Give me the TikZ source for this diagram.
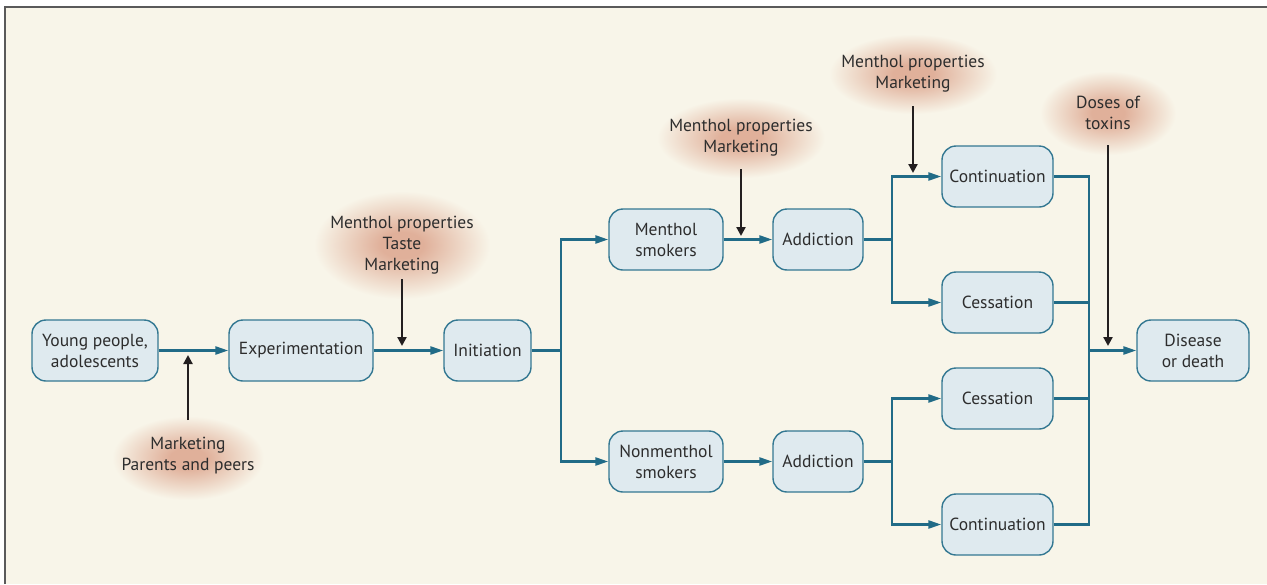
\documentclass[tikz,border=0pt]{standalone}
\usepackage{fontspec}
\setmainfont{PT Sans}
\usetikzlibrary{arrows.meta}
\definecolor{bgc}{RGB}{248,245,233}
\definecolor{glowc}{RGB}{224,176,154}
\definecolor{boxfill}{RGB}{223,234,239}
\definecolor{boxdraw}{RGB}{52,120,146}
\definecolor{conn}{RGB}{33,107,135}
\definecolor{txt}{RGB}{45,45,45}
\definecolor{blk}{RGB}{35,31,32}
\definecolor{frame}{RGB}{90,90,90}
\pgfdeclareradialshading{glowshade}{\pgfpoint{0bp}{0bp}}{color(0bp)=(glowc); color(6bp)=(glowc); color(25bp)=(bgc); color(50bp)=(bgc)}
\begin{document}
\begin{tikzpicture}[x=1pt,y=-1pt,
  font=\fontsize{17.5}{21}\selectfont, text=txt,
  box/.style={draw=boxdraw, fill=boxfill, line width=1.4pt, rounded corners=14pt,
    minimum height=61pt, align=center, inner sep=0pt},
  lbl/.style={align=center, inner sep=0pt},
  cl/.style={draw=conn, line width=2.4pt},
  cla/.style={cl, -{Triangle[length=13pt,width=8pt]}},
  ba/.style={draw=blk, line width=2.2pt, -{Triangle[length=9pt,width=9pt]}},
  glow/.style={shading=glowshade}]
\useasboundingbox (0,0) rectangle (1267,584);
\fill[white] (0,0) rectangle (1267,584);
\fill[bgc] (5,7) rectangle (1267,584);
\draw[frame, line width=2pt] (5,584) -- (5,7) -- (1267,7);

% glows
\shade[glow] (188,458) ellipse (76 and 42);
\shade[glow] (402,245) ellipse (88 and 54);
\shade[glow] (741,138) ellipse (84 and 40);
\shade[glow] (913,74) ellipse (84 and 40);
\shade[glow] (1108,113) ellipse (68 and 42);

% nodes
\node[box, minimum width=126pt] (yp) at (95,350.5) {Young people,\\adolescents};
\node[box, minimum width=144pt] (ex) at (301,350.5) {Experimentation};
\node[box, minimum width=87pt] (in) at (487.5,350.5) {Initiation};
\node[box, minimum width=114pt] (ms) at (666,239.5) {Menthol\\smokers};
\node[box, minimum width=90pt] (at) at (818,239.5) {Addiction};
\node[box, minimum width=111pt] (ct) at (997.5,176.5) {Continuation};
\node[box, minimum width=111pt] (cs) at (997.5,302.5) {Cessation};
\node[box, minimum width=112pt] (dd) at (1193,350.5) {Disease\\or death};
\node[box, minimum width=111pt] (cs2) at (997.5,398.5) {Cessation};
\node[box, minimum width=111pt] (cb) at (997.5,524.5) {Continuation};
\node[box, minimum width=114pt] (ns) at (666,461.5) {Nonmenthol\\smokers};
\node[box, minimum width=90pt] (ab) at (818,461.5) {Addiction};

% labels
\node[lbl] (l1) at (188,456) {Marketing\\Parents and peers};
\node[lbl] (l2) at (402,245) {Menthol properties\\Taste\\Marketing};
\node[lbl] (l3) at (741,138) {Menthol properties\\Marketing};
\node[lbl] (l4) at (913,74) {Menthol properties\\Marketing};
\node[lbl] (l5) at (1108,113) {Doses of\\toxins};

% connectors
\draw[cla] (yp.east) -- (ex.west);
\draw[cla] (ex.east) -- (in.west);
\coordinate (s1) at (561,350.5);
\draw[cl] (in.east) -- (s1);
\draw[cla] (s1) |- (ms.west);
\draw[cla] (s1) |- (ns.west);
\draw[cla] (ms.east) -- (at.west);
\draw[cla] (ns.east) -- (ab.west);
\coordinate (s2) at (892,239.5);
\draw[cl] (at.east) -- (s2);
\draw[cla] (s2) |- (ct.west);
\draw[cla] (s2) |- (cs.west);
\coordinate (s3) at (892,461.5);
\draw[cl] (ab.east) -- (s3);
\draw[cla] (s3) |- (cs2.west);
\draw[cla] (s3) |- (cb.west);
\coordinate (j) at (1089,350.5);
\draw[cl] (ct.east) -| (j);
\draw[cl] (cb.east) -| (j);
\draw[cl] (cs.east) -| (j);
\draw[cl] (cs2.east) -| (j);
\draw[cla] (j) -- (dd.west);

% influence arrows
\coordinate (e1) at (188,355);
\coordinate (e2) at (402,346);
\coordinate (e3) at (741,236);
\coordinate (e4) at (913,173);
\coordinate (e5) at (1108,346);
\draw[ba] (188,420) -- (e1);
\draw[ba] (402,279) -- (e2);
\draw[ba] (741,169) -- (e3);
\draw[ba] (913,106) -- (e4);
\draw[ba] (1108,145) -- (e5);
\end{tikzpicture}
\end{document}
